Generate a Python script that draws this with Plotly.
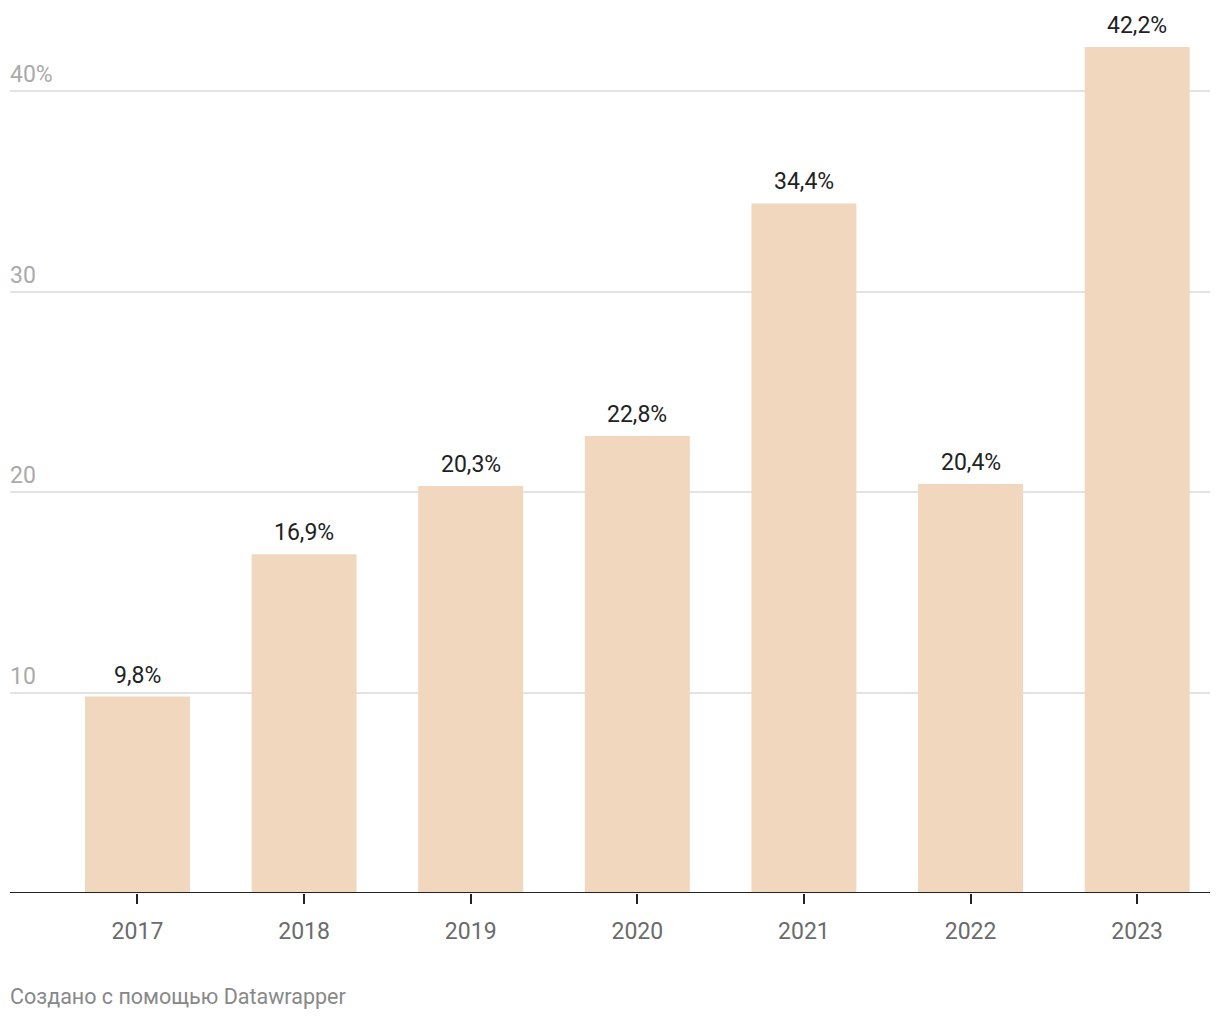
import plotly.graph_objects as go

years = ["2017", "2018", "2019", "2020", "2021", "2022", "2023"]
values = [9.8, 16.9, 20.3, 22.8, 34.4, 20.4, 42.2]
value_labels = ["9,8%", "16,9%", "20,3%", "22,8%", "34,4%", "20,4%", "42,2%"]
y_ticks = [10, 20, 30, 40]
y_tick_labels = ["10", "20", "30", "40%"]
footer = "Создано с помощью Datawrapper"

FONT = "Roboto"
xs = list(range(len(years)))
fig = go.Figure()
fig.add_trace(go.Bar(
    x=xs, y=values,
    marker=dict(color="#f0d7bd", line=dict(width=0)),
    width=0.63, hoverinfo="skip",
))

for x, v, lab in zip(xs, values, value_labels):
    fig.add_annotation(x=x, y=v, xref="x", yref="y", text=lab, showarrow=False,
                       xanchor="center", yanchor="bottom", yshift=6,
                       font=dict(family=FONT, size=23, color="#222222"))

for t, lab in zip(y_ticks, y_tick_labels):
    fig.add_annotation(x=0, xref="paper", y=t, yref="y", text=lab,
                       showarrow=False, xanchor="left", yanchor="bottom",
                       xshift=-2, yshift=1,
                       font=dict(family=FONT, size=23, color="#aaaaaa"))

fig.add_annotation(x=0, xref="paper", y=0.0, yref="paper", yshift=-89,
                   text=footer, showarrow=False, xanchor="left", yanchor="top",
                   xshift=-2,
                   font=dict(family=FONT, size=21.5, color="#888888"))

fig.update_layout(
    width=1220, height=1020,
    margin=dict(l=10, r=10, t=11, b=127),
    plot_bgcolor="white", paper_bgcolor="white",
    showlegend=False,
    xaxis=dict(
        range=[-0.765, 6.437], tickmode="array",
        tickvals=xs, ticktext=years,
        showgrid=False, zeroline=False, showline=False,
        ticks="outside", ticklen=10, tickwidth=2, tickcolor="#222222",
        ticklabelstandoff=7,
        tickfont=dict(family=FONT, size=23, color="#6b6b6b"),
        fixedrange=True,
    ),
    yaxis=dict(
        range=[0, 44], tickmode="array", tickvals=y_ticks,
        showticklabels=False, showgrid=True, gridcolor="#e3e3e3", gridwidth=2,
        zeroline=False, showline=False, fixedrange=True,
    ),
)
fig.add_shape(type="line", xref="paper", yref="y", x0=0, x1=1, y0=0, y1=0,
              line=dict(color="#222222", width=2), layer="above")

fig.write_html("out.html", config={"displayModeBar": False},
               post_script="document.body.style.margin='0';")
